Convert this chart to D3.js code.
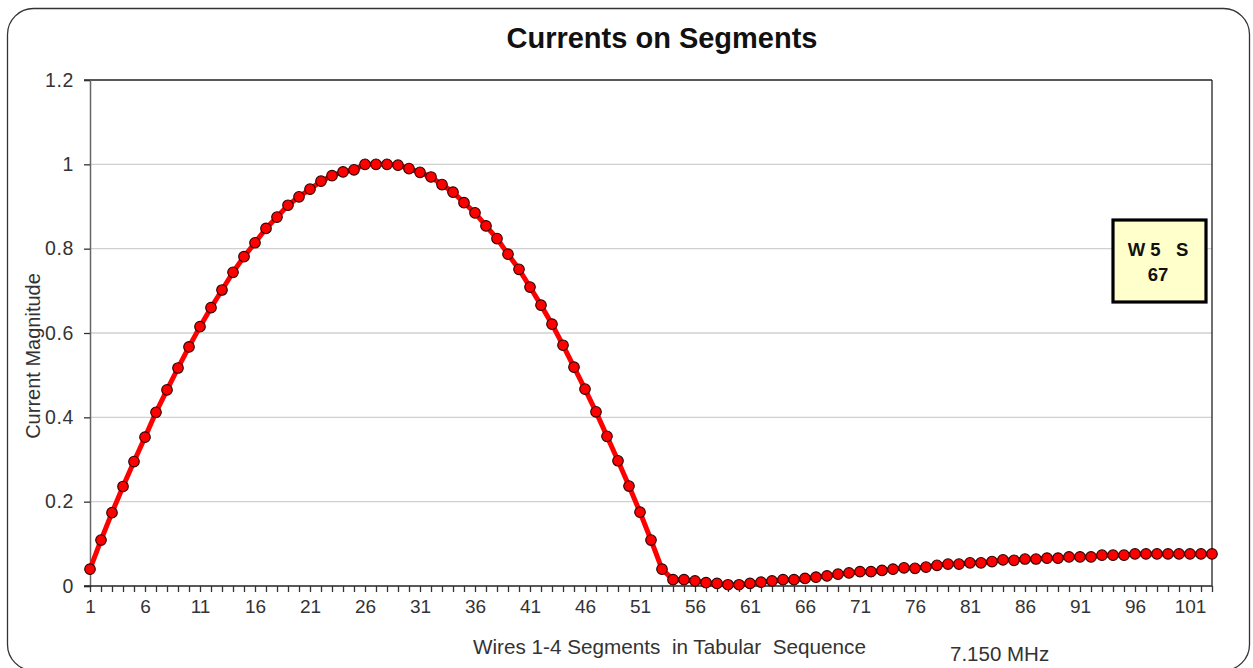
<!DOCTYPE html>
<html>
<head>
<meta charset="utf-8">
<script src="https://cdn.jsdelivr.net/npm/d3@7"></script>
<style>
  html, body { margin: 0; padding: 0; background: #fff; }
  svg { display: block; font-family: "Liberation Sans", Arial, sans-serif; }
</style>
</head>
<body>
<svg id="chart" width="1253" height="668"></svg>
<script>
// ---- data ----
const segments = d3.range(1, 104); // 103 segments, tabular sequence
const currents = [
  0.040, 0.109, 0.174, 0.236, 0.295, 0.353, 0.412, 0.465, 0.517, 0.567,
  0.615, 0.660, 0.702, 0.744, 0.781, 0.814, 0.848, 0.875, 0.903, 0.923,
  0.941, 0.960, 0.973, 0.982, 0.987, 1.000, 1.000, 1.000, 0.998, 0.990,
  0.981, 0.970, 0.952, 0.934, 0.909, 0.885, 0.854, 0.824, 0.787, 0.751,
  0.709, 0.666, 0.621, 0.571, 0.519, 0.467, 0.413, 0.355, 0.297, 0.237,
  0.175, 0.109, 0.040, 0.015, 0.015, 0.012, 0.008, 0.006, 0.003, 0.003,
  0.006, 0.009, 0.012, 0.015, 0.015, 0.018, 0.021, 0.024, 0.028, 0.031,
  0.034, 0.034, 0.037, 0.040, 0.043, 0.042, 0.045, 0.049, 0.052, 0.052,
  0.055, 0.055, 0.058, 0.062, 0.061, 0.064, 0.064, 0.066, 0.066, 0.069,
  0.069, 0.069, 0.073, 0.073, 0.073, 0.076, 0.076, 0.076, 0.076, 0.076,
  0.076, 0.076, 0.076
];
const yTicks = [0, 0.2, 0.4, 0.6, 0.8, 1, 1.2];
const xTickLabels = segments.filter(s => (s - 1) % 5 === 0);
const titleText = "Currents on Segments";
const xTitle = "Wires 1-4 Segments  in Tabular  Sequence";
const yTitle = "Current Magnitude";
const freqText = "7.150 MHz";
const noteLines = ["W 5   S", "67"];

// ---- layout ----
const svg = d3.select("#chart");
const plotL = 90, plotR = 1212, plotT = 80, plotB = 586;

const x = d3.scalePoint().domain(segments).range([plotL, plotR]);
const y = d3.scaleLinear().domain([0, 1.2]).range([plotB, plotT]);

// outer rounded frame
svg.append("rect")
  .attr("x", 7.5).attr("y", 8.5)
  .attr("width", 1242).attr("height", 662)
  .attr("rx", 26).attr("ry", 26)
  .attr("fill", "#fff").attr("stroke", "#333").attr("stroke-width", 1.3);

// title
svg.append("text")
  .attr("x", 662).attr("y", 48)
  .attr("text-anchor", "middle")
  .attr("font-size", 29).attr("font-weight", "bold")
  .attr("fill", "#111")
  .text(titleText);

// gridlines
svg.append("g")
  .selectAll("line")
  .data(yTicks.filter(t => t > 0 && t < 1.2))
  .join("line")
  .attr("x1", plotL).attr("x2", plotR)
  .attr("y1", d => y(d)).attr("y2", d => y(d))
  .attr("stroke", "#d0d0d0").attr("stroke-width", 1.3);

// top and right borders of plot area
svg.append("line")
  .attr("x1", plotL - 6).attr("x2", plotR)
  .attr("y1", y(1.2)).attr("y2", y(1.2))
  .attr("stroke", "#222").attr("stroke-width", 1.3);
svg.append("line")
  .attr("x1", plotR).attr("x2", plotR)
  .attr("y1", y(1.2)).attr("y2", plotB)
  .attr("stroke", "#222").attr("stroke-width", 1.3);

// y axis
const yAxis = d3.axisLeft(y)
  .tickValues(yTicks)
  .tickSize(6)
  .tickPadding(10)
  .tickFormat(d => d3.format("")(+d.toFixed(1)));
const gy = svg.append("g")
  .attr("transform", `translate(${plotL},0)`)
  .call(yAxis);
gy.select(".domain").attr("stroke", "#666").attr("stroke-width", 1.5);
gy.selectAll(".tick line").attr("stroke", "#333").attr("stroke-width", 1.3);
gy.selectAll(".tick text")
  .attr("font-size", 19.5).attr("fill", "#333")
  .attr("letter-spacing", 0.6)
  .attr("font-family", "Liberation Sans, Arial, sans-serif");

// x axis
const xAxis = d3.axisBottom(x)
  .tickSize(6)
  .tickPadding(8)
  .tickFormat(d => xTickLabels.includes(d) ? String(d) : "");
const gx = svg.append("g")
  .attr("transform", `translate(0,${plotB})`)
  .call(xAxis);
gx.select(".domain")
  .attr("d", `M${plotL - 6},0H${plotR}`)
  .attr("stroke", "#222").attr("stroke-width", 1.3);
gx.selectAll(".tick line").attr("stroke", "#333").attr("stroke-width", 1.3);
gx.selectAll(".tick text")
  .attr("font-size", 19).attr("fill", "#333")
  .attr("font-family", "Liberation Sans, Arial, sans-serif");

// axis titles
svg.append("text")
  .attr("transform", "translate(40,356) rotate(-90)")
  .attr("text-anchor", "middle")
  .attr("font-size", 20).attr("fill", "#333")
  .text(yTitle);

svg.append("text")
  .attr("x", 473).attr("y", 654)
  .attr("font-size", 20.7).attr("fill", "#333")
  .style("white-space", "pre")
  .attr("xml:space", "preserve")
  .text(xTitle);

svg.append("text")
  .attr("x", 950).attr("y", 661)
  .attr("font-size", 20.5).attr("fill", "#333")
  .text(freqText);

// series line
const line = d3.line()
  .x((d, i) => x(segments[i]))
  .y(d => y(d));
svg.append("path")
  .datum(currents)
  .attr("d", line)
  .attr("fill", "none")
  .attr("stroke", "#ff0000")
  .attr("stroke-width", 5)
  .attr("stroke-linejoin", "round");

// markers
svg.append("g")
  .selectAll("circle")
  .data(currents)
  .join("circle")
  .attr("cx", (d, i) => x(segments[i]))
  .attr("cy", d => y(d))
  .attr("r", 5.3)
  .attr("fill", "#ff0000")
  .attr("stroke", "#2a0000")
  .attr("stroke-width", 1.1);

// annotation box
const note = svg.append("g");
note.append("rect")
  .attr("x", 1113).attr("y", 220)
  .attr("width", 93).attr("height", 82)
  .attr("fill", "#ffffcc")
  .attr("stroke", "#000").attr("stroke-width", 3.2);
note.selectAll("text")
  .data(noteLines)
  .join("text")
  .attr("x", 1158)
  .attr("y", (d, i) => 256 + i * 25)
  .attr("text-anchor", "middle")
  .attr("font-size", 18.5).attr("font-weight", "bold")
  .attr("fill", "#111")
  .attr("xml:space", "preserve")
  .style("white-space", "pre")
  .text(d => d);
</script>
</body>
</html>
